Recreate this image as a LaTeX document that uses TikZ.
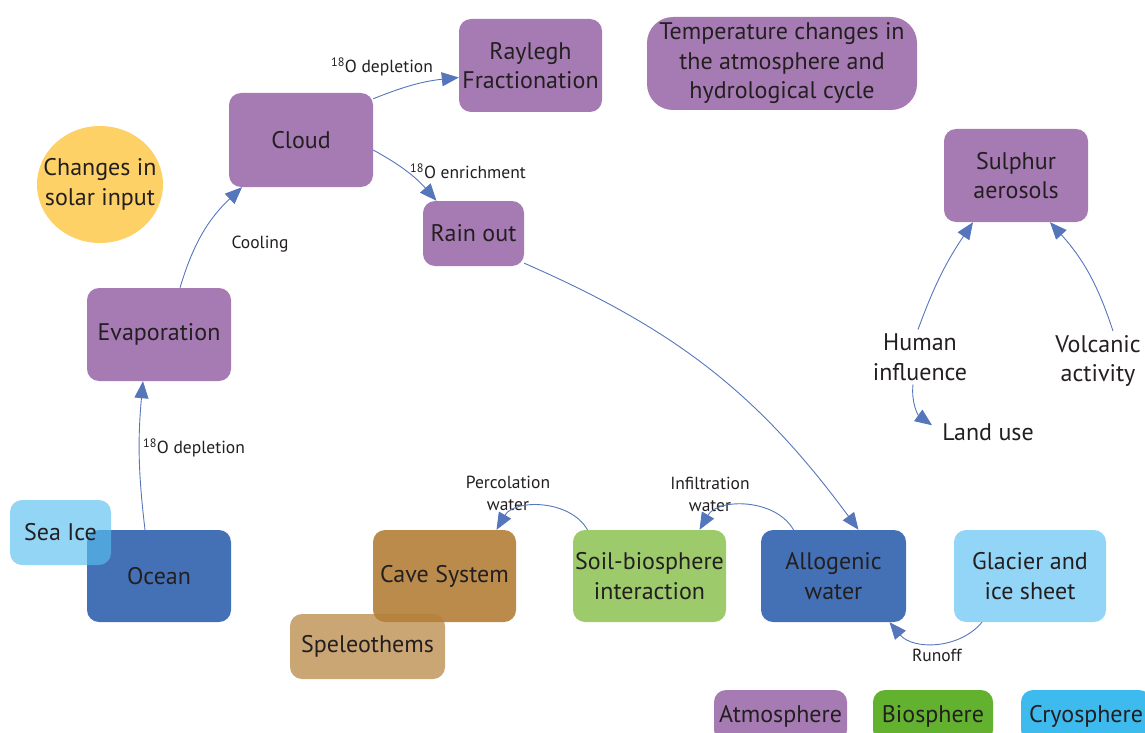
\documentclass[tikz,border=0pt]{standalone}
\usepackage{fontspec}
\setmainfont{PT Sans}
\usetikzlibrary{arrows.meta,shapes.geometric}
\definecolor{atmo}{HTML}{A67BB3}
\definecolor{hydro}{HTML}{4470B5}
\definecolor{cryo}{HTML}{93D5F6}
\definecolor{seaice}{HTML}{59BFF0}
\definecolor{soil}{HTML}{9DCB6C}
\definecolor{cave}{HTML}{BB8B4B}
\definecolor{speleo}{HTML}{B5803A}
\definecolor{sun}{HTML}{FDD166}
\definecolor{bio}{HTML}{63B22F}
\definecolor{ice}{HTML}{3EBBEE}
\definecolor{flow}{HTML}{5676BC}
\definecolor{ink}{HTML}{231F20}
\newcommand{\iso}{\textsuperscript{18}O}

\begin{document}
\begin{tikzpicture}[x=1pt,y=-1pt,
  box/.style={rounded corners=12pt,align=center,text=ink,inner sep=0pt,
    font=\fontsize{24}{29.5}\selectfont},
  lbl/.style={align=center,text=ink,font=\fontsize{17.5}{22}\selectfont},
  txt/.style={align=center,text=ink,inner sep=0pt,font=\fontsize{24}{29.5}\selectfont},
  flowline/.style={color=flow,line width=0.9pt,-{Triangle[length=17pt,width=14pt]}}]
  \useasboundingbox (0,0) rectangle (1145,733);
  \clip (0,0) rectangle (1145,733);
  % atmosphere
  \node[box,fill=atmo,minimum width=143pt,minimum height=93pt] (rayl) at (530.5,65.5) {Raylegh\\Fractionation};
  \node[box,fill=atmo,rounded corners=26pt,minimum width=270pt,minimum height=93pt] (temp) at (782,63.5) {Temperature changes in\\the atmosphere and\\hydrological cycle};
  \node[box,fill=atmo,minimum width=144pt,minimum height=94pt] (cloud) at (301,140) {Cloud};
  \node[box,fill=sun,ellipse,inner xsep=-12pt,inner ysep=-6pt,minimum width=126pt,minimum height=117pt] (solar) at (100,184.5) {Changes in\\solar input};
  \node[box,fill=atmo,minimum width=101pt,minimum height=65pt] (rain) at (473.5,233.5) {Rain out};
  \node[box,fill=atmo,minimum width=144pt,minimum height=93pt] (sulph) at (1016,175.5) {Sulphur\\aerosols};
  \node[box,fill=atmo,minimum width=144pt,minimum height=93pt] (evap) at (159,334.5) {Evaporation};
  % free text
  \node[txt] (human) at (920,357) {Human\\influence};
  \node[txt] (volc) at (1098,361) {Volcanic\\activity};
  \node[txt] (land) at (988,432) {Land use};
  % ground
  \node[box,fill=hydro,minimum width=144pt,minimum height=92pt] (ocean) at (159,576) {Ocean};
  \node[box,fill=seaice,fill opacity=0.65,text opacity=1,minimum width=101pt,minimum height=65pt] (seaice) at (60.5,532.5) {Sea Ice};
  \node[box,fill=cave,minimum width=143pt,minimum height=92pt] (cave) at (444.5,576) {Cave System};
  \node[box,fill=speleo,fill opacity=0.7,text opacity=1,minimum width=155pt,minimum height=65pt] (speleo) at (367.5,646.5) {Speleothems};
  \node[box,fill=soil,minimum width=153pt,minimum height=92pt] (soil) at (649.5,576) {Soil-biosphere\\interaction};
  \node[box,fill=hydro,minimum width=145pt,minimum height=92pt] (allo) at (833.5,576) {Allogenic\\water};
  \node[box,fill=cryo,minimum width=152pt,minimum height=92pt] (glac) at (1030,576) {Glacier and\\ice sheet};
  % legend
  \node[box,fill=atmo,minimum width=133pt,minimum height=52pt] (legatmo) at (780.5,716) {Atmosphere};
  \node[box,fill=bio,minimum width=120pt,minimum height=52pt] (legbio) at (933,716) {Biosphere};
  \node[box,fill=ice,minimum width=130pt,minimum height=52pt] (legcryo) at (1086,716) {Cryosphere};
  % labels
  \node[lbl] (l-dep1) at (382,67) {\iso{} depletion};
  \node[lbl] (l-enr) at (468,171) {\iso{} enrichment};
  \node[lbl] (l-cool) at (260,244) {Cooling};
  \node[lbl] (l-dep2) at (194,448) {\iso{} depletion};
  \node[lbl] (l-perc) at (508,493) {Percolation\\water};
  \node[lbl] (l-infl) at (710,494) {Infiltration\\water};
  \node[lbl] (l-run) at (937,655) {Runoff};
  \path[flowline]
    ([xshift=-14pt]ocean.north) edge[bend left=6] ([xshift=-16pt]evap.south)
    ([xshift=21pt]evap.north) edge[bend left=15] ([xshift=-59pt]cloud.south)
    ([yshift=-6pt]cloud.north east) edge[bend left=8] ([yshift=-12pt]rayl.west)
    ([yshift=-10pt]cloud.east) edge[bend left=10] ([xshift=-37pt]rain.north)
    ([yshift=3pt]rain.south east) edge[bend left=15] ([xshift=25pt]allo.north)
    ([xshift=-40pt]allo.north) edge[bend right=60] ([xshift=50pt]soil.north)
    ([xshift=-62pt]soil.north) edge[bend right=60] ([xshift=52pt]cave.north)
    ([xshift=-48pt]glac.south) edge[bend left=50] ([xshift=56pt]allo.south)
    ([xshift=-2pt,yshift=4pt]human.north) edge[bend left=7] ([xshift=-43pt]sulph.south)
    ([xshift=15pt,yshift=4pt]volc.north) edge[bend right=12] ([xshift=34pt]sulph.south);
  \draw[flowline] ([xshift=-7pt,yshift=-4pt]human.south) .. controls +(-2,18) and +(-14,-10) .. ([xshift=-10pt,yshift=-2pt]land.north west);
\end{tikzpicture}
\end{document}
